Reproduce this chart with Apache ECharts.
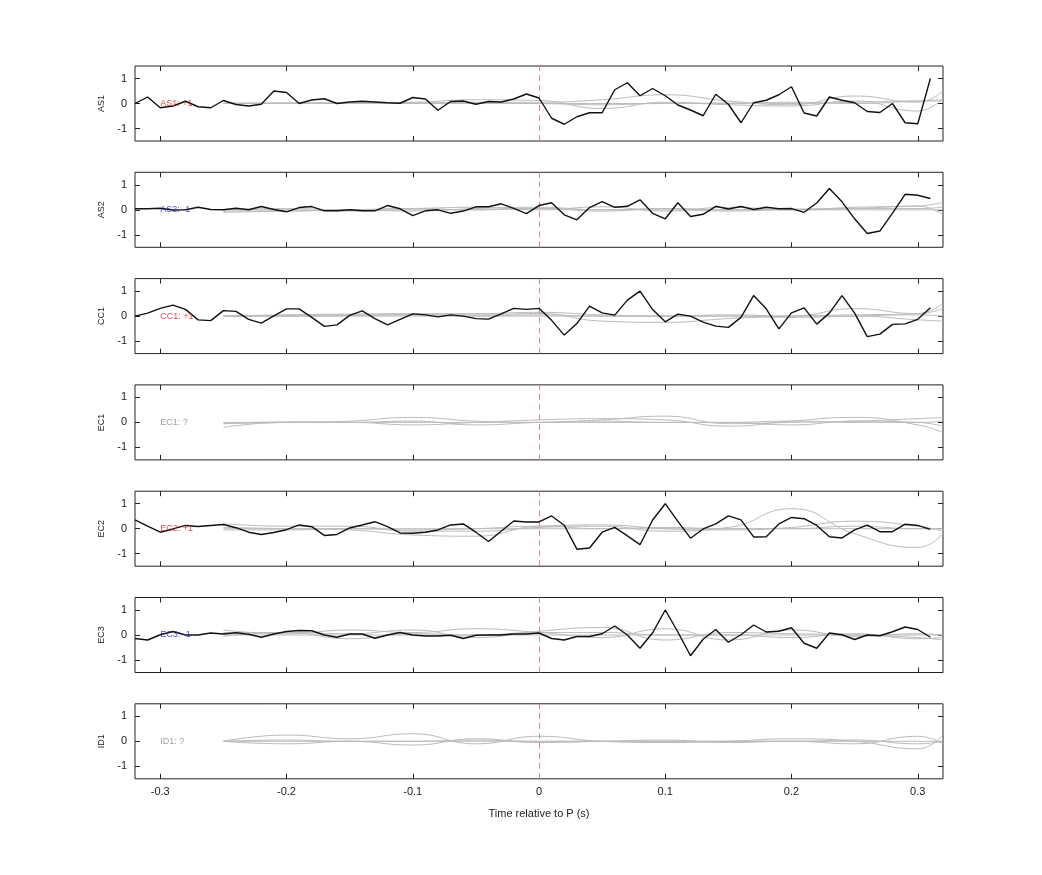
<!DOCTYPE html>
<html><head><meta charset="utf-8">
<script src="https://cdn.jsdelivr.net/npm/echarts@6/dist/echarts.min.js"></script>
<style>html,body{margin:0;padding:0;background:#fff}#c{width:1042px;height:875px}</style>
</head><body><div id="c"></div>
<script>
const panelNames = ['AS1','AS2','CC1','EC1','EC2','EC3','ID1'];
const panelLabels = ['AS1: +1','AS2: -1','CC1: +1','EC1: ?','EC2: +1','EC3: -1','ID1: ?'];
const labelColors = ['#d42020','#2020d0','#d42020','#888888','#d42020','#2020d0','#888888'];
const xTicks = [-0.3,-0.2,-0.1,0,0.1,0.2,0.3];
const yTicks = [-1,0,1];
const blackTimes = [];
for (let i = -32; i <= 31; i++) blackTimes.push(+(i/100).toFixed(2));
const grayTimes = [-0.25,-0.2,-0.15,-0.1,-0.05,0,0.05,0.1,0.15,0.2,0.25,0.3,0.32];

const AS1 = [0,0.26,-0.17,-0.1,0.09,-0.13,-0.17,0.12,-0.04,-0.1,-0.03,0.5,0.44,0,0.14,0.19,0,0.06,0.09,0.06,0.03,0.01,0.24,0.18,-0.27,0.08,0.1,-0.03,0.08,0.06,0.18,0.38,0.22,
 -0.59,-0.83,-0.53,-0.37,-0.37,0.55,0.83,0.31,0.6,0.31,-0.06,-0.26,-0.49,0.37,-0.03,-0.77,0.03,0.13,0.35,0.67,-0.38,-0.5,0.26,0.13,0.03,-0.32,-0.36,0,-0.77,-0.81,1.0];
const AS2 = [0.04,0.04,0.06,-0.01,0,0.1,0.01,0,0.06,0,0.13,0.01,-0.08,0.09,0.13,-0.04,-0.04,0,-0.04,-0.04,0.17,0.04,-0.23,-0.04,0,-0.14,-0.05,0.12,0.12,0.24,0.06,-0.15,0.17,
 0.28,-0.2,-0.4,0.09,0.33,0.1,0.14,0.4,-0.14,-0.36,0.28,-0.27,-0.18,0.14,0.03,0.13,0.01,0.1,0.04,0.05,-0.1,0.27,0.85,0.32,-0.36,-0.95,-0.85,-0.13,0.62,0.58,0.45];
const CC1 = [0,0.12,0.31,0.44,0.27,-0.15,-0.18,0.22,0.19,-0.13,-0.28,0.01,0.29,0.29,-0.05,-0.41,-0.35,0.03,0.21,-0.1,-0.35,-0.13,0.09,0.05,-0.03,0.05,0,-0.1,-0.12,0.09,0.31,0.27,0.31,
 -0.17,-0.76,-0.3,0.4,0.13,0.04,0.64,1.0,0.26,-0.23,0.08,0,-0.24,-0.4,-0.45,-0.05,0.82,0.29,-0.51,0.13,0.33,-0.32,0.12,0.82,0.12,-0.82,-0.72,-0.33,-0.31,-0.13,0.33];
const EC1 = null;
const EC2 = [0.35,0.1,-0.14,-0.01,0.13,0.09,0.13,0.17,0.04,-0.14,-0.23,-0.15,-0.04,0.15,0.08,-0.27,-0.23,0.03,0.15,0.28,0.08,-0.17,-0.18,-0.14,-0.05,0.15,0.19,-0.14,-0.51,-0.1,0.31,0.27,0.27,
 0.51,0.14,-0.82,-0.77,-0.14,0.05,-0.29,-0.64,0.35,1.0,0.29,-0.38,-0.01,0.19,0.51,0.35,-0.33,-0.32,0.19,0.45,0.4,0.13,-0.32,-0.37,-0.05,0.14,-0.12,-0.12,0.18,0.13,-0.03];
const EC3 = [-0.14,-0.2,0.01,0.14,0,0,0.08,0.04,0.09,0.03,-0.09,0.04,0.14,0.18,0.17,0,-0.09,0.04,0.04,-0.13,0,0.1,0,-0.04,-0.04,-0.01,-0.14,-0.01,0,0,0.04,0.04,0.08,
 -0.14,-0.2,-0.06,-0.06,0.05,0.36,0,-0.53,0.09,1.0,0.12,-0.83,-0.17,0.22,-0.29,0.01,0.4,0.12,0.15,0.29,-0.33,-0.53,0.08,0.01,-0.18,0,-0.03,0.13,0.32,0.22,-0.09];
const ID1 = null;
const blackData = [AS1,AS2,CC1,EC1,EC2,EC3,ID1];

const grayAS1 = [[0,0.02,0.03,0.05,0.15,0.12,-0.2,0.05,-0.05,-0.1,0.1,-0.3,0.2],[0,0,0.02,0.02,0.05,0.05,0.15,0.35,0.1,-0.05,0.3,0.05,0.5],[0,0,0,0,0,0,0,0,0.02,0,0.05,0.1,0.1],[0.02,0.02,0,0.02,0.02,0,-0.05,0,0,0.05,0,0.1,0.15]];
const grayAS2 = [[-0.05,-0.05,0,-0.05,0.05,0.1,0,0.05,0,0,0.05,0.15,-0.2],[0,0.05,0,0.05,0.1,0,0.12,-0.05,0.1,0,0.1,0.15,0.3],[0,0,-0.05,0,0,0.05,0,0,-0.05,0,0,0,0],[-0.1,-0.05,0,0.05,0,0.05,-0.05,0.05,0,0.03,0.05,0.05,0.1]];
const grayCC1 = [[0,0.03,0.05,0.05,0.05,0.1,-0.2,-0.25,-0.1,0,0.05,0.1,0.5],[0,0.05,0.08,0.1,0.1,0.15,0.05,0,0.05,0,0.3,0.1,0.3],[0,0,0,0,0,0,0,0,0,0,0,-0.15,-0.2],[0,0,0.02,0.05,0,0.05,0,0,0,-0.05,0,0.05,0]];
const grayEC1 = [[-0.2,0,0,-0.1,0,0.1,0.15,0.1,-0.15,0.05,0.2,-0.1,-0.4],[-0.05,0,0.05,0.2,0.05,0,0.1,0.25,-0.05,0,0.05,0.15,0.2],[0,0,0,0,0,0,0,0,0,0.05,0,0,0.05],[-0.05,0.02,0,0.05,-0.1,0,0.05,0,0,-0.1,0.05,0,-0.15]];
const grayEC2 = [[0.2,0.1,0.1,-0.1,-0.1,0.05,0.1,-0.1,0.05,0.8,-0.2,-0.75,-0.2],[0.05,0,-0.05,-0.25,-0.3,0.1,0.15,0,-0.05,0.05,0.3,0.1,-0.1],[0,0,0,0,0,0,0,0,0,0,0,0,0],[-0.05,-0.05,0,-0.05,0,0.1,0,0.05,0,0,0.1,0,0]];
const grayEC3 = [[0.1,0.1,0.05,0.2,-0.1,0.15,0.3,-0.2,0.1,0.05,0,-0.1,-0.2],[0.2,0.05,0.2,0.1,0.25,0.1,-0.1,0.25,-0.2,0.2,-0.05,0.05,0],[0,0,0,0,0,0,0,0,0,0,0,0,0],[-0.05,0.1,-0.15,0.05,0,0.1,0.1,0,0,-0.1,0.05,-0.15,-0.1]];
const grayID1 = [[0,0.25,0.1,0.3,-0.1,0.2,0,-0.05,0,0.1,0,-0.3,0.25],[0,-0.1,0,-0.15,0.1,-0.05,0,0.05,-0.05,0,-0.1,0.2,-0.1],[0,0,0,0,0,0,0,0,0,0,0,0,0],[0,0.05,0,0,0.05,0,0,0,0,0,0.05,-0.1,0]];
const grayData = [grayAS1,grayAS2,grayCC1,grayEC1,grayEC2,grayEC3,grayID1];

const chart = echarts.init(document.getElementById('c'));
const grids=[], xAxes=[], yAxes=[], series=[];
const top0 = 66, step = 106.3, h = 75;
const font = 'Liberation Sans, Arial';
panelNames.forEach((name,i)=>{
  const t = top0 + step*i;
  grids.push({left:135,right:99,top:t,height:h,show:true,borderColor:'#222',borderWidth:1});
  const last = i===panelNames.length-1;
  const tick = (vals)=>({show:true,inside:true,length:5,lineStyle:{color:'#222'},customValues:vals});
  xAxes.push({type:'value',gridIndex:i,min:-0.32,max:0.32,interval:0.1,position:'bottom',
    axisLine:{show:false,onZero:false},splitLine:{show:false},axisTick:tick(xTicks),
    axisLabel:{show:last,color:'#222',fontSize:11,fontFamily:font,customValues:xTicks,formatter:v=>String(+v.toFixed(1))},
    name:last?'Time relative to P (s)':'',nameLocation:'middle',nameGap:30,nameTextStyle:{color:'#222',fontSize:11,fontFamily:font}});
  xAxes.push({type:'value',gridIndex:i,min:-0.32,max:0.32,position:'top',
    axisLine:{show:false,onZero:false},splitLine:{show:false},axisLabel:{show:false},axisTick:tick(xTicks)});
  yAxes.push({type:'value',gridIndex:i,min:-1.5,max:1.5,position:'left',
    axisLine:{show:false,onZero:false},splitLine:{show:false},axisTick:tick(yTicks),
    axisLabel:{color:'#222',fontSize:11,fontFamily:font,customValues:yTicks},
    name:name,nameLocation:'middle',nameGap:28,nameRotate:90,nameTextStyle:{color:'#222',fontSize:9,fontFamily:font}});
  yAxes.push({type:'value',gridIndex:i,min:-1.5,max:1.5,position:'right',
    axisLine:{show:false,onZero:false},splitLine:{show:false},axisLabel:{show:false},axisTick:tick(yTicks)});
  grayData[i].forEach((arr,k)=>{
    const s = {type:'line',xAxisIndex:2*i,yAxisIndex:2*i,data:grayTimes.map((x,j)=>[x,arr[j]]),
      smooth:0.5,showSymbol:false,silent:true,lineStyle:{color:'#bbbbbb',width:1},z:2};
    if(k===0){
      s.markLine={silent:true,symbol:'none',label:{show:false},lineStyle:{color:'#e08888',type:[6,4],width:1},data:[{xAxis:0}]};
    }
    series.push(s);
  });
  if(blackData[i]){
    series.push({type:'line',xAxisIndex:2*i,yAxisIndex:2*i,data:blackTimes.map((x,j)=>[x,blackData[i][j]]),
      showSymbol:false,silent:true,lineStyle:{color:'#111',width:1.4},z:5});
  }
  series.push({type:'scatter',xAxisIndex:2*i,yAxisIndex:2*i,data:[[-0.3,0]],symbolSize:0.1,silent:true,z:10,
    label:{show:true,position:'right',distance:0,formatter:panelLabels[i],color:labelColors[i],fontSize:9,fontFamily:font}});
});
chart.setOption({animation:false,backgroundColor:'#fff',grid:grids,xAxis:xAxes,yAxis:yAxes,series:series});
</script></body></html>
